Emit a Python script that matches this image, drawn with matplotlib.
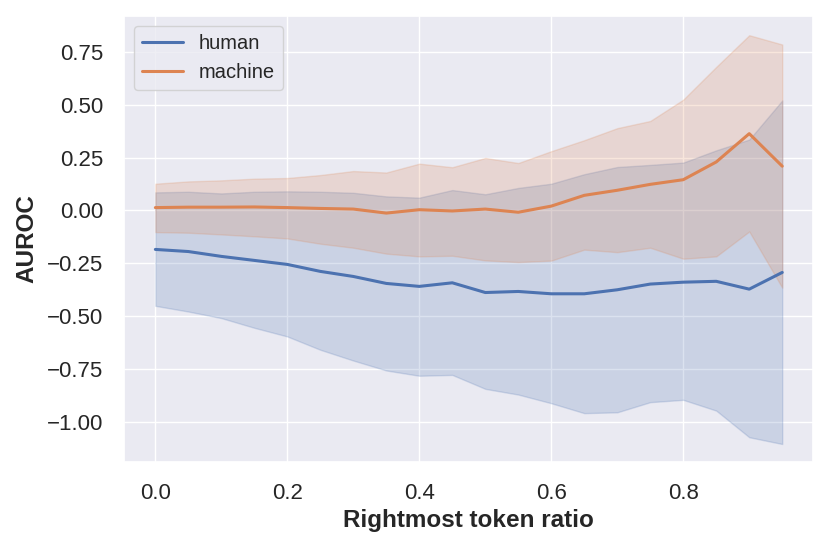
import numpy as np
import matplotlib
matplotlib.use("Agg")
import matplotlib.pyplot as plt
import seaborn as sns

sns.set_theme(style="darkgrid")
plt.rcParams['font.family'] = ['Liberation Sans', 'DejaVu Sans']

ratio = np.round(np.arange(20) * 0.05, 2)

human_mean = [-0.185, -0.195, -0.218, -0.237, -0.256, -0.289, -0.313, -0.346, -0.36, -0.343,
              -0.389, -0.384, -0.395, -0.395, -0.376, -0.349, -0.34, -0.336, -0.373, -0.294]
human_hi = [0.085, 0.088, 0.08, 0.088, 0.09, 0.088, 0.083, 0.066, 0.06, 0.096,
            0.076, 0.106, 0.126, 0.171, 0.205, 0.215, 0.226, 0.284, 0.335, 0.52]
human_lo = [-0.452, -0.479, -0.51, -0.556, -0.597, -0.66, -0.711, -0.758, -0.783, -0.779,
            -0.845, -0.872, -0.913, -0.96, -0.956, -0.908, -0.897, -0.948, -1.074, -1.106]

machine_mean = [0.013, 0.015, 0.015, 0.016, 0.013, 0.009, 0.006, -0.013, 0.003, -0.003,
                0.006, -0.009, 0.02, 0.071, 0.095, 0.123, 0.145, 0.229, 0.363, 0.209]
machine_hi = [0.126, 0.137, 0.142, 0.15, 0.153, 0.167, 0.186, 0.179, 0.221, 0.204,
              0.248, 0.224, 0.28, 0.332, 0.389, 0.423, 0.524, 0.679, 0.829, 0.785]
machine_lo = [-0.103, -0.106, -0.114, -0.123, -0.133, -0.158, -0.177, -0.205, -0.218, -0.215,
              -0.237, -0.245, -0.238, -0.186, -0.198, -0.177, -0.229, -0.218, -0.1, -0.366]

pal = sns.color_palette()
fig, ax = plt.subplots(figsize=(8.29, 5.51), dpi=100)

ax.plot(ratio, human_mean, color=pal[0], lw=2.2, label='human')
ax.fill_between(ratio, human_lo, human_hi, color=pal[0], alpha=0.2)
ax.plot(ratio, machine_mean, color=pal[1], lw=2.2, label='machine')
ax.fill_between(ratio, machine_lo, machine_hi, color=pal[1], alpha=0.2)

ax.set_xlim(-0.047, 0.997)
ax.set_ylim(-1.19, 0.92)
ax.set_yticks([-1.0, -0.75, -0.5, -0.25, 0.0, 0.25, 0.5, 0.75])
ax.set_xticks([0.0, 0.2, 0.4, 0.6, 0.8])
ax.tick_params(labelsize=16, pad=9)
ax.set_xlabel('Rightmost token ratio', fontsize=17.5, fontweight='bold', labelpad=4)
ax.set_ylabel('AUROC', fontsize=17.5, fontweight='bold', labelpad=6)
ax.legend(loc='upper left', fontsize=14.5)

plt.subplots_adjust(left=0.15, right=0.981, top=0.971, bottom=0.162)
plt.savefig('out.png')
